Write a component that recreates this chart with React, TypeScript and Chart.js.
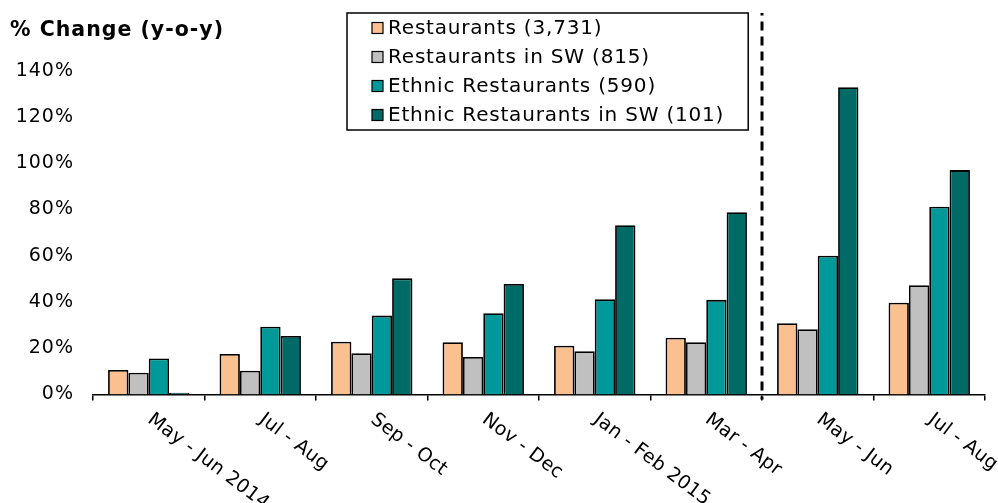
import { useEffect, useRef } from 'react';
import { Chart, registerables } from 'chart.js';

Chart.register(...registerables);

const categories = ['May - Jun 2014', 'Jul - Aug', 'Sep - Oct', 'Nov - Dec', 'Jan - Feb 2015', 'Mar - Apr', 'May - Jun', 'Jul - Aug'];
const seriesNames = ['Restaurants (3,731)', 'Restaurants in SW (815)', 'Ethnic Restaurants (590)', 'Ethnic Restaurants in SW (101)'];
const restaurants = [10.6, 17.5, 22.8, 22.6, 21.1, 24.5, 30.8, 39.7];
const restaurantsSW = [9.4, 10.3, 17.8, 16.2, 18.7, 22.6, 28.2, 47.2];
const ethnic = [15.6, 29.3, 34.1, 35.1, 41.2, 40.9, 60.0, 81.2];
const ethnicSW = [0.8, 25.3, 50.2, 47.8, 73.2, 78.8, 132.8, 97.0];
const seriesColors = ['#FAC090', '#C0C0C0', '#009999', '#006B66'];
const yMin = 0;
const yMax = 140;
const yStep = 20;
const titleText = '% Change (y-o-y)';
const dividerAfterIndex = 5;

const FONT = '"DejaVu Sans", Verdana, sans-serif';

const spacingPlugin = {
  id: 'spacing',
  beforeUpdate(chart: any) { chart.ctx.letterSpacing = '1px'; },
  beforeDraw(chart: any) { chart.ctx.letterSpacing = '1px'; },
};

const xLabelsPlugin = {
  id: 'xLabels',
  afterDraw(chart: any) {
    const ctx = chart.ctx;
    const xs = chart.scales.x;
    const angle = (37 * Math.PI) / 180;
    ctx.save();
    ctx.letterSpacing = '0.3px';
    ctx.font = `19px ${FONT}`;
    ctx.fillStyle = '#000';
    ctx.textAlign = 'left';
    ctx.textBaseline = 'middle';
    categories.forEach((label, i) => {
      const x = xs.getPixelForValue(i) + 1;
      const y = xs.top + 23;
      ctx.save();
      ctx.translate(x, y);
      ctx.rotate(angle);
      ctx.fillText(label, 0, 0);
      ctx.restore();
    });
    ctx.restore();
  },
};

const dividerPlugin = {
  id: 'divider',
  afterDatasetsDraw(chart: any) {
    const ctx = chart.ctx;
    const xs = chart.scales.x;
    const x = (xs.getPixelForValue(dividerAfterIndex) + xs.getPixelForValue(dividerAfterIndex + 1)) / 2;
    ctx.save();
    ctx.strokeStyle = '#000';
    ctx.lineWidth = 3;
    ctx.setLineDash([9, 6]);
    ctx.lineDashOffset = 6.5;
    ctx.beginPath();
    ctx.moveTo(x, 13);
    ctx.lineTo(x, xs.top + 5);
    ctx.stroke();
    ctx.restore();
  },
};

const legendPlugin = {
  id: 'boxLegend',
  afterDraw(chart: any) {
    const ctx = chart.ctx;
    const left = 347;
    const top = 13;
    const rowH = 29;
    ctx.save();
    ctx.letterSpacing = '0.8px';
    ctx.font = `20px ${FONT}`;
    const widths = chart.data.datasets.map((d: any) => ctx.measureText(d.label).width);
    const maxW = Math.max(...widths);
    const textX = left + 41;
    const w = textX - left + maxW + 24;
    const h = rowH * chart.data.datasets.length + 1;
    ctx.fillStyle = '#fff';
    ctx.fillRect(left, top, w, h);
    ctx.strokeStyle = '#000';
    ctx.lineWidth = 1.5;
    ctx.strokeRect(left, top, w, h);
    chart.data.datasets.forEach((d: any, i: number) => {
      const cy = top + 15 + i * rowH;
      ctx.fillStyle = d.backgroundColor;
      ctx.fillRect(left + 25, cy - 5.5, 11, 11);
      ctx.lineWidth = 1.2;
      ctx.strokeStyle = '#000';
      ctx.strokeRect(left + 25, cy - 5.5, 11, 11);
      ctx.fillStyle = '#000';
      ctx.textAlign = 'left';
      ctx.textBaseline = 'middle';
      ctx.fillText(d.label, textX, cy + 1);
    });
    ctx.restore();
  },
};

export default function App() {
  const ref = useRef<HTMLCanvasElement | null>(null);
  useEffect(() => {
    if (!ref.current) return;
    const values = [restaurants, restaurantsSW, ethnic, ethnicSW];
    const chart = new Chart(ref.current, {
      type: 'bar',
      data: {
        labels: categories,
        datasets: seriesNames.map((name, i) => ({
          label: name,
          data: values[i],
          backgroundColor: seriesColors[i],
          borderColor: '#000',
          borderWidth: 1.8,
          categoryPercentage: 0.73,
          barPercentage: 1.0,
        })),
      },
      options: {
        responsive: true,
        maintainAspectRatio: false,
        animation: false,
        layout: { padding: { left: 10, right: 13, top: 0, bottom: 102.5 } },
        plugins: {
          legend: { display: false },
          tooltip: { enabled: false },
          title: {
            display: true,
            text: titleText,
            align: 'start',
            color: '#000',
            font: { family: FONT, size: 20.5, weight: 'bold', lineHeight: 1.2 },
            padding: { top: 18, bottom: 28 },
          },
        },
        scales: {
          x: {
            offset: true,
            grid: {
              display: true,
              offset: true,
              drawOnChartArea: false,
              drawTicks: true,
              tickLength: 6,
              color: '#000',
              lineWidth: 1.5,
            },
            border: { display: true, color: '#000', width: 1.5 },
            ticks: { display: false },
          },
          y: {
            min: yMin,
            max: yMax,
            grid: { display: false },
            border: { display: false },
            afterFit: (s: any) => { s.width = 83; },
            ticks: {
              stepSize: yStep,
              padding: 11,
              color: '#000',
              font: { family: FONT, size: 19 },
              callback: (v: any) => `${v}%`,
            },
          },
        },
      },
      plugins: [spacingPlugin, dividerPlugin, xLabelsPlugin, legendPlugin],
    });
    return () => chart.destroy();
  }, []);
  return (
    <div style={{ position: 'fixed', left: 0, top: 0, width: 998, height: 503, background: '#fff' }}>
      <canvas ref={ref} />
    </div>
  );
}
